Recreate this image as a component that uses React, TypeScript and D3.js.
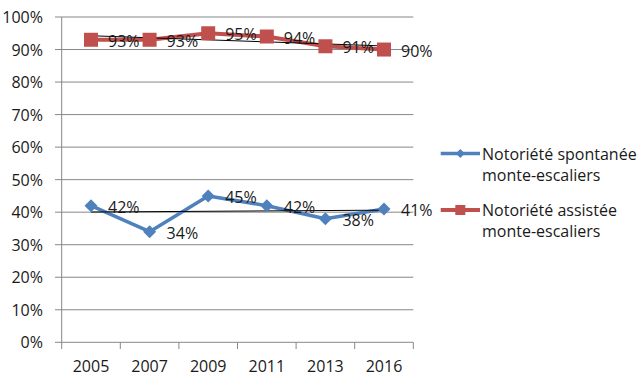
import React from "react";
import * as d3 from "d3";

const years = ["2005", "2007", "2009", "2011", "2013", "2016"];
const spontanee = [42, 34, 45, 42, 38, 41];
const assistee = [93, 93, 95, 94, 91, 90];
const yTicks = [0, 10, 20, 30, 40, 50, 60, 70, 80, 90, 100];
const seriesNames = [
  ["Notoriété spontanée", "monte-escaliers"],
  ["Notoriété assistée", "monte-escaliers"],
];

const W = 643;
const H = 376;
const FONT = "'Open Sans', sans-serif";
const BLUE = "#4F81BD";
const RED = "#C0504D";
const GRID = "#878787";

function trend(vals: number[]): [number, number] {
  const n = vals.length;
  const xm = (n - 1) / 2;
  const ym = d3.mean(vals) as number;
  let sxy = 0, sxx = 0;
  vals.forEach((v, i) => {
    sxy += (i - xm) * (v - ym);
    sxx += (i - xm) * (i - xm);
  });
  const b = sxy / sxx;
  return [ym - b * xm, ym + b * (n - 1 - xm)];
}

export default function App() {
  const x = d3.scaleBand<string>().domain(years).range([61.7, 413.3]).padding(0);
  const y = d3.scaleLinear().domain([0, 100]).range([342.3, 17]);
  const cx = (d: string) => (x(d) as number) + x.bandwidth() / 2;
  const line = d3
    .line<number>()
    .x((_, i) => cx(years[i]))
    .y((v) => y(v));

  const series = [
    { vals: spontanee, color: BLUE, marker: "diamond", width: 3.5 },
    { vals: assistee, color: RED, marker: "square", width: 4 },
  ];

  const diamond = (px: number, py: number, r: number) =>
    `M${px},${py - r}L${px + r},${py}L${px},${py + r}L${px - r},${py}Z`;

  return (
    <svg
      width={W}
      height={H}
      style={{ position: "absolute", left: 0, top: 0, background: "#fff" }}
      fontFamily={FONT}
    >
      <rect width={W} height={H} fill="#fff" />
      {yTicks.map((t) => (
        <g key={t}>
          <line x1={55} x2={413.3} y1={y(t)} y2={y(t)} stroke={GRID} strokeWidth={1} />
          <text
            x={43}
            y={y(t)}
            textAnchor="end"
            dominantBaseline="central"
            fontSize={16}
            fill="#1a1a1a"
          >
            {t}%
          </text>
        </g>
      ))}
      <line x1={61.7} x2={61.7} y1={17} y2={342.3} stroke={GRID} strokeWidth={1} />
      {[...years.map((d) => x(d) as number), 413.3].map((px, i) => (
        <line key={i} x1={px} x2={px} y1={342.3} y2={349} stroke={GRID} strokeWidth={1} />
      ))}
      {years.map((d) => (
        <text
          key={d}
          x={cx(d)}
          y={366}
          textAnchor="middle"
          dominantBaseline="central"
          fontSize={16}
          fill="#1a1a1a"
        >
          {d}
        </text>
      ))}

      {series.map((s, si) => (
        <path
          key={si}
          d={line(s.vals) as string}
          fill="none"
          stroke={s.color}
          strokeWidth={s.width}
          strokeLinejoin="round"
        />
      ))}
      {series.map((s, si) => {
        const [a, b] = trend(s.vals);
        return (
          <line
            key={"t" + si}
            x1={cx(years[0])}
            x2={cx(years[years.length - 1])}
            y1={y(a)}
            y2={y(b)}
            stroke="#000"
            strokeWidth={1}
          />
        );
      })}
      {series.map((s, si) =>
        s.vals.map((v, i) =>
          s.marker === "diamond" ? (
            <path key={si + "-" + i} d={diamond(cx(years[i]), y(v), 6.5)} fill={s.color} />
          ) : (
            <rect
              key={si + "-" + i}
              x={cx(years[i]) - 7}
              y={y(v) - 7}
              width={14}
              height={14}
              fill={s.color}
            />
          )
        )
      )}
      {series.map((s, si) =>
        s.vals.map((v, i) => (
          <text
            key={"l" + si + "-" + i}
            x={cx(years[i]) + 17}
            y={y(v) + 1}
            dominantBaseline="central"
            fontSize={16}
            fill="#1a1a1a"
          >
            {v}%
          </text>
        ))
      )}

      {series.map((s, si) => {
        const ly = si === 0 ? 153.5 : 210;
        return (
          <g key={"lg" + si}>
            <line x1={440.7} x2={480} y1={ly} y2={ly} stroke={s.color} strokeWidth={s.width} />
            {s.marker === "diamond" ? (
              <path d={diamond(460.3, ly, 4.5)} fill={s.color} />
            ) : (
              <rect x={455.3} y={ly - 5} width={10} height={10} fill={s.color} />
            )}
            <text x={482} y={ly} dominantBaseline="central" fontSize={16} fill="#1a1a1a">
              {seriesNames[si][0]}
            </text>
            <text x={482} y={ly + 21} dominantBaseline="central" fontSize={16} fill="#1a1a1a">
              {seriesNames[si][1]}
            </text>
          </g>
        );
      })}
    </svg>
  );
}
